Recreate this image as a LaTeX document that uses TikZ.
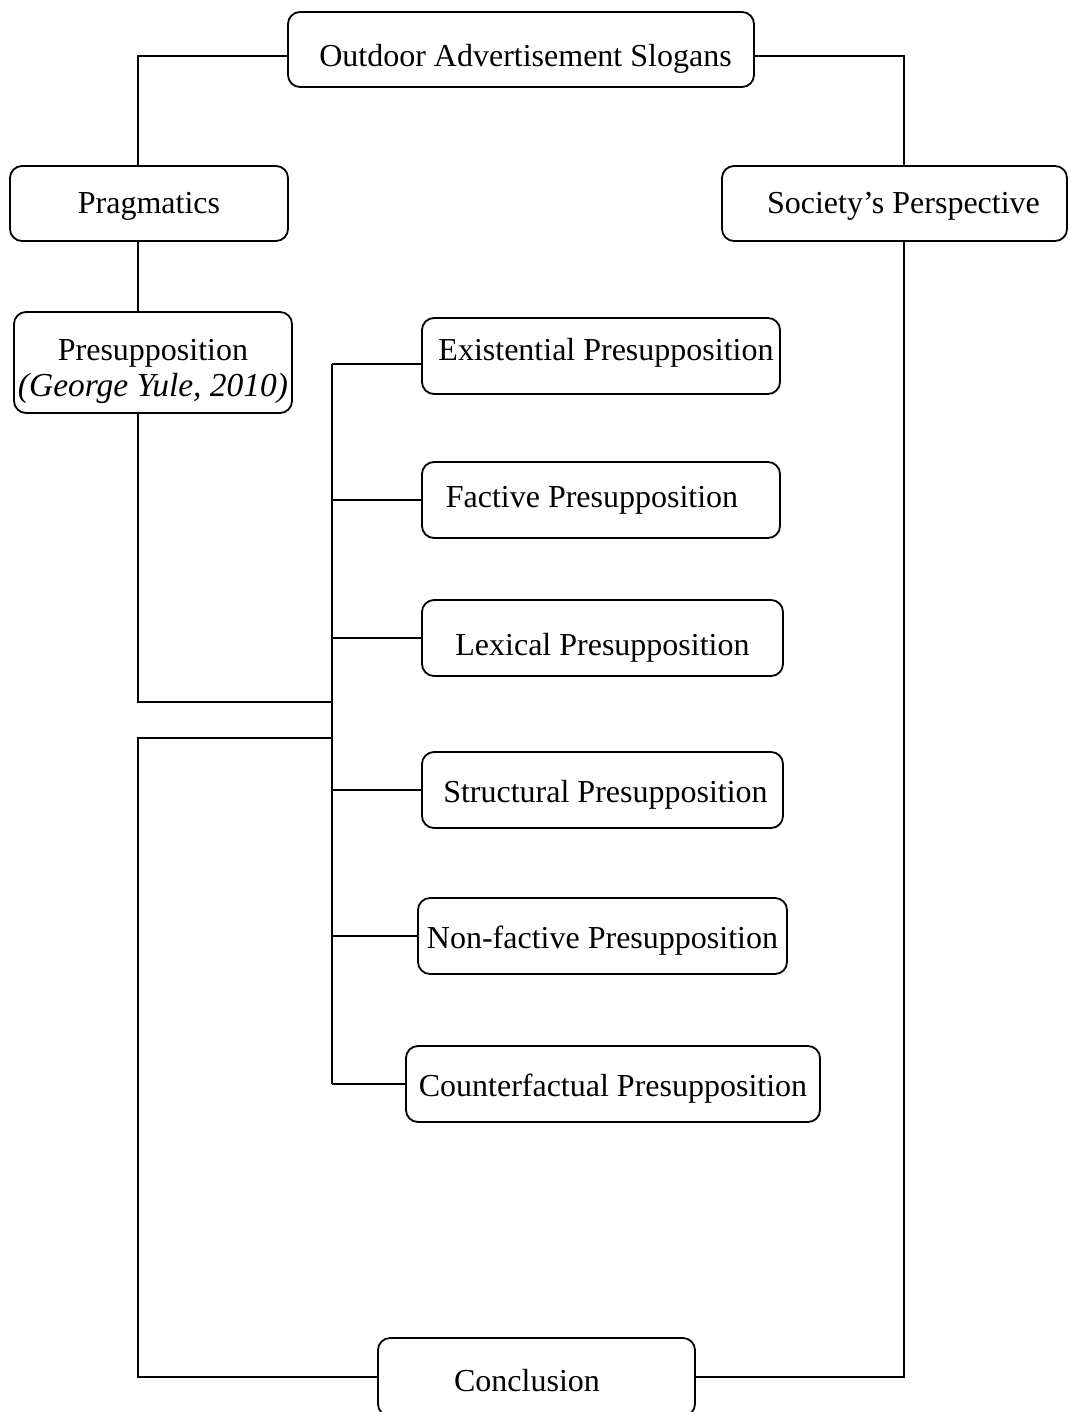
\documentclass[tikz,border=0pt]{standalone}
\usepackage{fontspec}
\setmainfont{Liberation Serif}
\usetikzlibrary{positioning}
\tikzset{
    box/.style={draw, rounded corners=12pt, line width=1.8pt, align=center, inner sep=0pt,
        font=\fontsize{32}{36}\selectfont, minimum height=76pt, text depth=7pt},
    link/.style={line width=1.8pt}
}
\begin{document}
\begin{tikzpicture}[x=1pt, y=-1pt]
    \useasboundingbox (0,0) rectangle (1068,1412);
    % top row
    \node[box, minimum width=466pt, minimum height=75pt, text height=42pt] (slogan) at (521,49.5) {\hspace*{9pt}Outdoor Advertisement Slogans};
    \node[box, minimum width=278pt, minimum height=75pt, text height=28pt] (prag) at (149,203.5) {Pragmatics};
    \node[box, minimum width=345pt, minimum height=75pt, text height=28pt] (soc) at (894.5,203.5) {\hspace*{18pt}Society's Perspective};
    \node[box, minimum width=278pt, minimum height=101pt, text depth=] (presup) at (153,362.5) {\rule{0pt}{40pt}Presupposition\\{\fontsize{33.5}{36}\selectfont\itshape (George Yule, 2010)}};
    % the six kinds
    \node[box, minimum width=358pt, text height=16pt] (exist) at (601,356) {\hspace*{10pt}Existential Presupposition};
    \node[box, minimum width=358pt, text height=22pt] (fact) at (601,500) {Factive Presupposition\hspace*{18pt}};
    \node[box, minimum width=361pt, text height=42pt] (lex) at (602.5,638) {Lexical Presupposition};
    \node[box, minimum width=361pt, text height=32pt] (struct) at (602.5,790) {\hspace*{6pt}Structural Presupposition};
    \node[box, minimum width=369pt, text height=32pt] (nonfact) at (602.5,936) {Non-factive Presupposition};
    \node[box, minimum width=414pt, text height=32pt] (counter) at (613,1084) {Counterfactual Presupposition};
    \node[box, minimum width=317pt, minimum height=78pt, text height=36pt] (concl) at (536.5,1377) {Conclusion\hspace*{19pt}};
    % connectors
    \coordinate (bustop) at (332,364);
    \coordinate (joinA) at (332,702);
    \coordinate (joinB) at (332,738);
    \coordinate (cornerL) at (138,738);
    \draw[link] ([yshift=-6.5pt]slogan.west) -| ([xshift=-11pt]prag.north);
    \draw[link] ([yshift=-6.5pt]slogan.east) -| ([xshift=9.5pt]soc.north);
    \draw[link] ([xshift=-11pt]prag.south) -- ([xshift=-15pt]presup.north);
    \draw[link] ([xshift=-15pt]presup.south) |- (joinA);
    \draw[link] (bustop) -- (counter.west -| bustop);
    \draw[link] (bustop) -- (bustop -| exist.west);
    \foreach \n in {fact, lex, struct, nonfact, counter}
        \draw[link] (\n.west -| bustop) -- (\n.west);
    \draw[link] (joinB) -- (cornerL) |- (concl.west);
    \draw[link] ([xshift=9.5pt]soc.south) |- (concl.east);
\end{tikzpicture}
\end{document}
